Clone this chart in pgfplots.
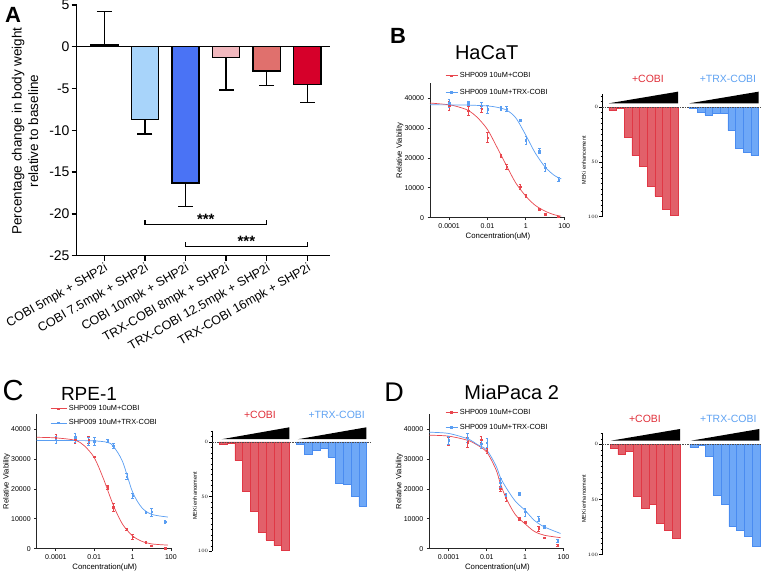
\documentclass[border=0pt]{standalone}
\usepackage{fontspec}
\setmainfont{Liberation Sans}
\usepackage{pgfplots}
\pgfplotsset{compat=1.18}
\definecolor{cred}{HTML}{E8474E}
\definecolor{cblue}{HTML}{5A9EF2}
\definecolor{mred}{HTML}{E2606A}
\definecolor{mredE}{HTML}{E03845}
\definecolor{mblue}{HTML}{6EA8F7}
\definecolor{mblueE}{HTML}{4A8CF0}
\definecolor{tred}{HTML}{E0303A}
\definecolor{tblue}{HTML}{5FA2F2}
\definecolor{aA}{HTML}{A8D4FA}
\definecolor{aB}{HTML}{4A73F5}
\definecolor{aC}{HTML}{F1B8BE}
\definecolor{aD}{HTML}{E0706D}
\definecolor{aE}{HTML}{D6002A}
\pgfplotsset{
  pts/.style={only marks, mark=square*, mark size=0.7pt, #1, forget plot,
    error bars/y dir=both, error bars/y explicit,
    error bars/error bar style={line width=0.5pt, #1},
    error bars/error mark options={rotate=90, mark size=1.3pt, line width=0.5pt, #1}},
  fitc/.style={#1, line width=0.7pt, smooth, no marks, forget plot},
  rbar/.style={ybar, bar width=1, bar shift=0pt, fill=mred, draw=mredE, line width=0.5pt},
  bbar/.style={ybar, bar width=1, bar shift=0pt, fill=mblue, draw=mblueE, line width=0.5pt},
  abar/.style={ybar, bar width=0.67, bar shift=0pt, draw=black, line width=1.3pt,
    error bars/y explicit,
    error bars/error bar style={line width=1.3pt, black},
    error bars/error mark options={rotate=90, line width=1.3pt, mark size=7.5pt, black}},
}
\begin{document}
\begin{tikzpicture}[x=1pt,y=1pt]
\useasboundingbox (0,0) rectangle (763,573);

% ---------------- Panel A ----------------
\node[font=\bfseries\fontsize{22}{22}\selectfont] at (13,558) {A};
\node[rotate=90, align=center, font=\fontsize{13.5}{16.5}\selectfont] at (25,442) {Percentage change in body weight\\relative to baseline};
\begin{axis}[
  at={(76.7pt,317.3pt)}, anchor=south west,
  scale only axis, width=253.3pt, height=250.7pt, clip=false,
  xmin=-0.68, xmax=5.56, ymin=-25, ymax=5,
  axis lines*=left,
  axis line style={line width=1.3pt, black},
  tick style={line width=1.3pt, black},
  tick align=outside, major tick length=5pt,
  ytick={-25,-20,-15,-10,-5,0,5},
  xtick={0,1,2,3,4,5},
  xticklabels={COBI 5mpk + SHP2i, COBI 7.5mpk + SHP2i, COBI 10mpk + SHP2i, TRX-COBI 8mpk + SHP2i, TRX-COBI 12.5mpk + SHP2i, TRX-COBI 16mpk + SHP2i},
  xticklabel style={rotate=30, anchor=north east, font=\fontsize{12.5}{14}\selectfont, inner sep=1pt},
  yticklabel style={font=\fontsize{14}{16}\selectfont, inner sep=2pt},
  /pgf/number format/assume math mode=true,
]
\addplot[abar, fill=black, error bars/y dir=plus] coordinates {(0,0.3) +- (0,3.95)};
\addplot[abar, fill=aA, error bars/y dir=minus] coordinates {(1,-8.7) +- (0,1.74)};
\addplot[abar, fill=aB, error bars/y dir=minus] coordinates {(2,-16.3) +- (0,2.85)};
\addplot[abar, fill=aC, error bars/y dir=minus] coordinates {(3,-1.27) +- (0,3.91)};
\addplot[abar, fill=aD, error bars/y dir=minus] coordinates {(4,-2.9) +- (0,1.72)};
\addplot[abar, fill=aE, error bars/y dir=minus] coordinates {(5,-4.5) +- (0,2.2)};
\draw[line width=1.3pt] (axis cs:-0.68,0) -- (axis cs:5.56,0);
\draw[line width=1.3pt] (axis cs:1,-20.75) -- (axis cs:1,-21.25) -- (axis cs:4,-21.25) -- (axis cs:4,-20.75);
\draw[line width=1.3pt] (axis cs:2,-23.4) -- (axis cs:2,-23.9) -- (axis cs:5,-23.9) -- (axis cs:5,-23.4);
\node[anchor=base, font=\bfseries\fontsize{15}{15}\selectfont, inner sep=0pt] at (axis cs:2.5,-21.28) {***};
\node[anchor=base, font=\bfseries\fontsize{15}{15}\selectfont, inner sep=0pt] at (axis cs:3.5,-23.91) {***};
\end{axis}

% ---------------- Panel B ----------------
\node[font=\bfseries\fontsize{22}{22}\selectfont] at (398,537) {B};
\node[font=\fontsize{20}{20}\selectfont] at (486.7,520.7) {HaCaT};
\begin{axis}[at={(430pt,355.3pt)}, anchor=south west,
  scale only axis, width=135pt, height=134.4pt, clip=false,
  xmode=log, xmin=1e-5, xmax=110, ymin=0, ymax=45000,
  axis lines*=left,
  axis line style={line width=0.8pt, black!85},
  tick style={line width=0.8pt, black!85},
  tick align=outside, major tick length=2.5pt,
  xtick={1e-4,1e-2,1,100}, xticklabels={0.0001,0.01,1,100},
  minor xtick={},
  scaled y ticks=false,
  ytick={0,10000,20000,30000,40000},
  yticklabels={0,10000,20000,30000,40000},
  tick label style={font=\fontsize{7}{8}\selectfont},
  xlabel={Concentration(uM)}, ylabel={Relative Viability},
  xlabel style={font=\fontsize{7.8}{9}\selectfont, at={(axis description cs:0.504,-0.141)}, anchor=center},
  ylabel style={font=\fontsize{7.6}{9}\selectfont, at={(axis description cs:-0.222,0.5)}, anchor=center},
  legend cell align=left,
  legend image code/.code={\draw[mark repeat=2,mark phase=2,#1] plot coordinates {(0pt,0pt) (6pt,0pt) (12pt,0pt)};},
  legend style={draw=none, fill=none, inner sep=0pt, font=\fontsize{7.4}{8}\selectfont, anchor=north west, at={(0.111,1.097)}, row sep=6pt}]
\addlegendimage{cred, line width=0.7pt, mark=square*, mark size=0.8pt}
\addlegendentry{SHP009 10uM+COBI}
\addlegendimage{cblue, line width=0.7pt, mark=square*, mark size=0.8pt}
\addlegendentry{SHP009 10uM+TRX-COBI}
\addplot[fitc=cred] coordinates {(1e-5,38400) (1e-4,37800) (3e-4,37100) (1e-3,35900) (3e-3,33500) (1e-2,29500) (3e-2,23800) (1e-1,17300) (3e-1,11600) (1,7200) (3,4200) (10,2200) (30,1000) (70,500)};
\addplot[fitc=cblue] coordinates {(1e-5,37800) (1e-3,37700) (1e-2,37400) (3e-2,37000) (1e-1,36000) (3e-1,33400) (1,27600) (3,21800) (10,17000) (30,14200) (70,13000)};
\addplot[pts=cred] table[x=x,y=y,y error=e] {
x y e
1e-4 37500 1400
1e-3 35800 1500
5e-3 36400 1000
1e-2 26800 1700
5e-2 20800 400
1e-1 17100 900
5e-1 10400 900
1 7300 500
5 2900 400
10 1200 300
50 300 200
};
\addplot[pts=cblue] table[x=x,y=y,y error=e] {
x y e
1e-4 38300 1200
1e-3 38300 800
5e-3 37500 1000
1e-2 36300 1200
5e-2 36600 600
1e-1 36400 800
5e-1 32700 300
1 26000 1300
5 22300 800
10 16800 1400
50 12800 700
};
\end{axis}

\begin{axis}[at={(602.3pt,356.3pt)}, anchor=south west,
  scale only axis, clip=false,
  axis x line=none, axis y line*=left, y dir=reverse,
  xtick=\empty,
  ytick={0,50,100}, minor ytick={-10,-5,5,10,...,95},
  tick align=outside, major tick length=3pt, minor tick length=1.6pt,
  tick style={line width=0.6pt, black},
  axis line style={line width=0.9pt, black},
  yticklabel style={font=\fontsize{5.5}{6}\selectfont, inner sep=1pt},
  ylabel={MEKi enhancement},
  ylabel style={font=\fontsize{5.5}{6}\selectfont, anchor=center, at={(axis description cs:-0.115,0.46)}},
  width=159.3pt, height=122.4pt, xmin=-0.37, xmax=20.4, ymin=-11.6, ymax=100]
\addplot[rbar] coordinates {(1,2.7) (2,1.5) (3,28) (4,44.4) (5,54.4) (6,72.6) (7,81.2) (8,93.6) (9,98.5)};
\addplot[bbar] coordinates {(11.5,0.8) (12.5,4.9) (13.5,7.3) (14.5,5.5) (15.5,5.5) (16.5,21.5) (17.5,37.9) (18.5,41.2) (19.5,44)};
\draw[dash pattern=on 1.5pt off 1pt, line width=0.5pt, black!70] (axis cs:-0.37,0) -- (axis cs:20.4,0);
\fill[black] (axis cs:0.5,-3.4) -- (axis cs:9.5,-3.4) -- (axis cs:9.5,-14) -- cycle;
\fill[black] (axis cs:11,-3.4) -- (axis cs:20,-3.4) -- (axis cs:20,-14) -- cycle;
\end{axis}
\node[text=tred, font=\fontsize{10.5}{11}\selectfont] at (648,493.7) {+COBI};
\node[text=tblue, font=\fontsize{10.5}{11}\selectfont] at (728,493.7) {+TRX-COBI};

% ---------------- Panel C ----------------
\node[font=\fontsize{29}{29}\selectfont] at (13,182) {C};
\node[font=\fontsize{19}{19}\selectfont] at (89,179) {RPE-1};
\begin{axis}[at={(36.7pt,24.3pt)}, anchor=south west,
  scale only axis, width=135pt, height=134.4pt, clip=false,
  xmode=log, xmin=1e-5, xmax=110, ymin=0, ymax=45000,
  axis lines*=left,
  axis line style={line width=0.8pt, black!85},
  tick style={line width=0.8pt, black!85},
  tick align=outside, major tick length=2.5pt,
  xtick={1e-4,1e-2,1,100}, xticklabels={0.0001,0.01,1,100},
  minor xtick={},
  scaled y ticks=false,
  ytick={0,10000,20000,30000,40000},
  yticklabels={0,10000,20000,30000,40000},
  tick label style={font=\fontsize{7}{8}\selectfont},
  xlabel={Concentration(uM)}, ylabel={Relative Viability},
  xlabel style={font=\fontsize{7.8}{9}\selectfont, at={(axis description cs:0.504,-0.141)}, anchor=center},
  ylabel style={font=\fontsize{7.6}{9}\selectfont, at={(axis description cs:-0.222,0.5)}, anchor=center},
  legend cell align=left,
  legend image code/.code={\draw[mark repeat=2,mark phase=2,#1] plot coordinates {(0pt,0pt) (8pt,0pt) (16pt,0pt)};},
  legend style={draw=none, fill=none, inner sep=0pt, font=\fontsize{7.4}{8}\selectfont, anchor=north west, at={(0.099,1.082)}, row sep=3.5pt}]
\addlegendimage{cred, line width=0.7pt, mark=square*, mark size=0.8pt}
\addlegendentry{SHP009 10uM+COBI}
\addlegendimage{cblue, line width=0.7pt, mark=square*, mark size=0.8pt}
\addlegendentry{SHP009 10uM+TRX-COBI}
\addplot[fitc=cred] coordinates {(1e-5,37300) (1e-4,37100) (1e-3,36300) (3e-3,34500) (1e-2,30500) (3e-2,23500) (1e-1,14500) (3e-1,8200) (1,4300) (3,2500) (10,1600) (70,1200)};
\addplot[fitc=cblue] coordinates {(1e-5,36200) (1e-3,36200) (1e-2,36100) (5e-2,35600) (1e-1,34300) (3e-1,29200) (1,19000) (3,13800) (10,11500) (70,10600)};
\addplot[pts=cred] table[x=x,y=y,y error=e] {
x y e
1e-4 37200 1000
1e-3 36600 1200
5e-3 36400 1200
1e-2 30800 300
5e-2 20600 800
1e-1 13900 1200
5e-1 6600 300
1 4000 800
5 2200 300
10 1000 200
50 200 200
};
\addplot[pts=cblue] table[x=x,y=y,y error=e] {
x y e
1e-4 36400 1200
1e-3 37300 1500
5e-3 35900 1300
1e-2 36000 1200
5e-2 36100 500
1e-1 34500 800
5e-1 24100 1000
1 17800 900
5 12200 400
10 12300 1400
50 9100 500
};
\end{axis}

\begin{axis}[at={(212.3pt,21.7pt)}, anchor=south west,
  scale only axis, clip=false,
  axis x line=none, axis y line*=left, y dir=reverse,
  xtick=\empty,
  ytick={0,50,100}, minor ytick={-10,-5,5,10,...,95},
  tick align=outside, major tick length=3pt, minor tick length=1.6pt,
  tick style={line width=0.6pt, black},
  axis line style={line width=0.9pt, black},
  yticklabel style={font=\fontsize{5.5}{6}\selectfont, inner sep=1pt},
  ylabel={MEKi enhancement},
  ylabel style={font=\fontsize{5.5}{6}\selectfont, anchor=center, at={(axis description cs:-0.11,0.46)}},
  width=157.7pt, height=120.6pt, xmin=-0.4, xmax=19.87, ymin=-10.3, ymax=100]
\addplot[rbar] coordinates {(1,1.8) (2,1.2) (3,17) (4,45.4) (5,63.7) (6,82.6) (7,89.6) (8,94.8) (9,98.8)};
\addplot[bbar] coordinates {(10.95,1.8) (11.95,11.6) (12.95,7.6) (13.95,5.5) (14.95,13.7) (15.95,38.1) (16.95,39) (17.95,50) (18.95,58.5)};
\draw[dash pattern=on 1.5pt off 1pt, line width=0.5pt, black!70] (axis cs:-0.4,0) -- (axis cs:19.87,0);
\fill[black] (axis cs:0.8,-2.5) -- (axis cs:9.5,-2.5) -- (axis cs:9.5,-13.4) -- cycle;
\fill[black] (axis cs:10.6,-2.5) -- (axis cs:19.4,-2.5) -- (axis cs:19.4,-13.4) -- cycle;
\end{axis}
\node[text=tred, font=\fontsize{10.5}{11}\selectfont] at (260,158) {+COBI};
\node[text=tblue, font=\fontsize{10.5}{11}\selectfont] at (336.7,158) {+TRX-COBI};

% ---------------- Panel D ----------------
\node[font=\fontsize{27}{27}\selectfont] at (394,181) {D};
\node[font=\fontsize{20}{20}\selectfont] at (511.7,181) {MiaPaca 2};
\begin{axis}[at={(429.3pt,24.3pt)}, anchor=south west,
  scale only axis, width=135pt, height=134.4pt, clip=false,
  xmode=log, xmin=1e-5, xmax=110, ymin=0, ymax=45000,
  axis lines*=left,
  axis line style={line width=0.8pt, black!85},
  tick style={line width=0.8pt, black!85},
  tick align=outside, major tick length=2.5pt,
  xtick={1e-4,1e-2,1,100}, xticklabels={0.0001,0.01,1,100},
  minor xtick={},
  scaled y ticks=false,
  ytick={0,10000,20000,30000,40000},
  yticklabels={0,10000,20000,30000,40000},
  tick label style={font=\fontsize{7}{8}\selectfont},
  xlabel={Concentration(uM)}, ylabel={Relative Viability},
  xlabel style={font=\fontsize{7.8}{9}\selectfont, at={(axis description cs:0.504,-0.141)}, anchor=center},
  ylabel style={font=\fontsize{7.6}{9}\selectfont, at={(axis description cs:-0.222,0.5)}, anchor=center},
  legend cell align=left,
  legend image code/.code={\draw[mark repeat=2,mark phase=2,#1] plot coordinates {(0pt,0pt) (6pt,0pt) (12pt,0pt)};},
  legend style={draw=none, fill=none, inner sep=0pt, font=\fontsize{7.4}{8}\selectfont, anchor=north west, at={(0.116,1.057)}, row sep=4.5pt}]
\addlegendimage{cred, line width=0.7pt, mark=square*, mark size=0.8pt}
\addlegendentry{SHP009 10uM+COBI}
\addlegendimage{cblue, line width=0.7pt, mark=square*, mark size=0.8pt}
\addlegendentry{SHP009 10uM+TRX-COBI}
\addplot[fitc=cred] coordinates {(1e-5,38000) (1e-4,37700) (1e-3,36300) (3e-3,34800) (1e-2,32300) (3e-2,26500) (5e-2,22000) (1e-1,17000) (3e-1,11500) (1,8300) (3,5800) (10,4500) (70,3700)};
\addplot[fitc=cblue] coordinates {(1e-5,39000) (1e-4,38600) (1e-3,36800) (3e-3,35000) (1e-2,33000) (3e-2,27800) (5e-2,24000) (1e-1,20500) (3e-1,16000) (1,12800) (3,9500) (10,7300) (70,5100)};
\addplot[pts=cred] table[x=x,y=y,y error=e] {
x y e
1e-4 36100 1300
1e-3 35700 1700
5e-3 36500 1000
1e-2 32800 700
5e-2 20000 900
1e-1 17000 1200
5e-1 10000 400
1 8900 400
5 6800 800
10 3700 300
50 1200 300
};
\addplot[pts=cblue] table[x=x,y=y,y error=e] {
x y e
1e-4 36300 1300
1e-3 37100 1500
5e-3 35200 1500
1e-2 35500 1500
5e-2 22000 1500
1e-1 17800 700
5e-1 18400 600
1 12300 1300
5 9900 800
10 7400 400
50 2600 600
};
\end{axis}

\begin{axis}[at={(602.3pt,18.3pt)}, anchor=south west,
  scale only axis, clip=false,
  axis x line=none, axis y line*=left, y dir=reverse,
  xtick=\empty,
  ytick={0,50,100}, minor ytick={-10,-5,5,10,...,95},
  tick align=outside, major tick length=3pt, minor tick length=1.6pt,
  tick style={line width=0.6pt, black},
  axis line style={line width=0.9pt, black},
  yticklabel style={font=\fontsize{5.5}{6}\selectfont, inner sep=1pt},
  ylabel={MEKi enhancement},
  ylabel style={font=\fontsize{5.5}{6}\selectfont, anchor=center, at={(axis description cs:-0.115,0.46)}},
  width=159.4pt, height=121.4pt, xmin=-0.49, xmax=20.0, ymin=-10, ymax=100]
\addplot[rbar] coordinates {(1,3.9) (2,9.4) (3,6.6) (4,46.8) (5,58) (6,54.4) (7,71.6) (8,78.2) (9,85.5)};
\addplot[bbar] coordinates {(11.28,2.7) (12.28,0.6) (13.28,11.2) (14.28,46.5) (15.28,54) (16.28,74.6) (17.28,77.6) (18.28,83.7) (19.28,92.7)};
\draw[dash pattern=on 1.5pt off 1pt, line width=0.5pt, black!70] (axis cs:-0.49,0) -- (axis cs:20.0,0);
\fill[black] (axis cs:0.6,-3.3) -- (axis cs:9.5,-3.3) -- (axis cs:9.5,-13.9) -- cycle;
\fill[black] (axis cs:10.9,-3.3) -- (axis cs:19.7,-3.3) -- (axis cs:19.7,-13.9) -- cycle;
\end{axis}
\node[text=tred, font=\fontsize{10.5}{11}\selectfont] at (645,154) {+COBI};
\node[text=tblue, font=\fontsize{10.5}{11}\selectfont] at (728.3,154) {+TRX-COBI};
\end{tikzpicture}
\end{document}
